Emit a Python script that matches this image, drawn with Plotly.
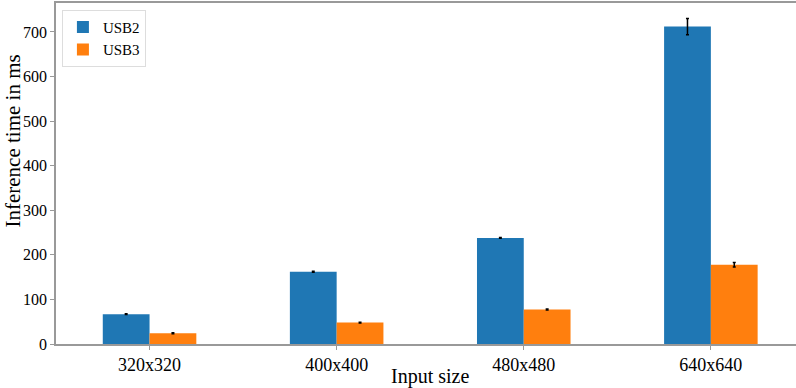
import plotly.graph_objects as go

categories = ["320x320", "400x400", "480x480", "640x640"]
usb2 = [67, 162, 238, 712]
usb2_err = [1, 1, 1, 18]
usb3 = [24, 48, 77.5, 178]
usb3_err = [1, 1, 1, 5]

font_family = "Liberation Serif"
W, H = 796, 388
ML, MR, MT, MB = 56, 0, 3, 44
PW, PH = W - ML - MR, H - MT - MB

def px_to_paper(xp, yp):
    return (xp - ML) / PW, (H - MB - yp) / PH

fig = go.Figure()
fig.add_trace(go.Bar(
    name="USB2", x=categories, y=usb2, marker_color="#1f77b4",
    marker_line_width=0,
    error_y=dict(type="data", array=usb2_err, color="black", thickness=1.5, width=1.5),
))
fig.add_trace(go.Bar(
    name="USB3", x=categories, y=usb3, marker_color="#ff7f0e",
    marker_line_width=0,
    error_y=dict(type="data", array=usb3_err, color="black", thickness=1.5, width=1.5),
))

yl_x, yl_y = px_to_paper(12.5, 141)
xl_x, xl_y = px_to_paper(430, 376)

fig.update_layout(
    width=W, height=H,
    margin=dict(l=ML, r=MR, t=MT, b=MB),
    barmode="group", bargap=0.5, bargroupgap=0,
    plot_bgcolor="white", paper_bgcolor="white",
    font=dict(family=font_family, color="black", size=17),
    legend=dict(
        x=0.008, y=0.98, xanchor="left", yanchor="top",
        bordercolor="#dddddd", borderwidth=1, bgcolor="white",
        font=dict(size=15, family=font_family), tracegroupgap=0,
    ),
    xaxis=dict(
        range=[-0.5, 3.455], showline=True, linecolor="#999999", linewidth=1.5,
        mirror=True, ticks="outside", ticklen=4, tickcolor="#999999",
        tickfont=dict(size=18), automargin=False,
    ),
    yaxis=dict(
        range=[0, 765], showline=True, linecolor="#999999", linewidth=1.5,
        mirror=False, ticks="outside", ticklen=4, tickcolor="#999999",
        showgrid=False, zeroline=False, dtick=100,
        tickfont=dict(size=16), automargin=False,
    ),
    annotations=[
        dict(text="Inference time in ms", x=yl_x, y=yl_y, xref="paper", yref="paper",
             textangle=-90, showarrow=False, xanchor="center", yanchor="middle",
             borderpad=0,
             font=dict(size=21, family=font_family, color="black")),
        dict(text="Input size", x=xl_x, y=xl_y, xref="paper", yref="paper",
             showarrow=False, xanchor="center", yanchor="middle",
             font=dict(size=20, family=font_family, color="black")),
    ],
)

fig.write_html(
    "out.html",
    config={"displayModeBar": False},
    post_script="document.body.style.margin='0';document.body.style.overflow='hidden';",
)
